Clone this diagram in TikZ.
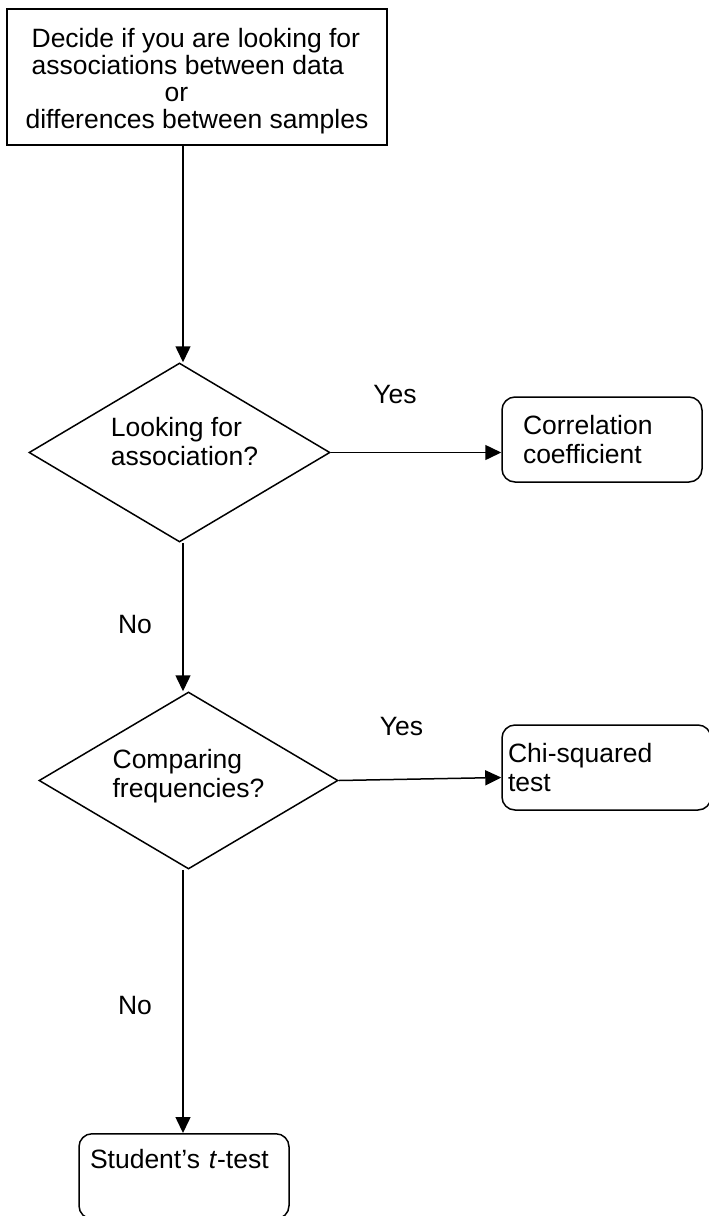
\documentclass[tikz,border=0pt]{standalone}
\usepackage{fontspec}
\setmainfont{Liberation Sans}
\usetikzlibrary{arrows.meta,positioning,shapes.geometric}

\begin{document}
\begin{tikzpicture}[x=1pt,y=-1pt,>={Triangle[length=16pt,width=15pt]},line width=1.5pt,
every node/.style={font=\fontsize{26.5}{29}\selectfont,inner sep=0pt},
startbox/.style={draw,rectangle,minimum width=380pt,minimum height=136pt,align=left,font=\fontsize{26.5}{27}\selectfont},
testbox/.style={draw,rectangle,rounded corners=13pt,align=left,minimum height=85pt},
question/.style={draw,diamond,aspect=1.69,align=left}]
\useasboundingbox (0,0) rectangle (709,1216);
\fill[white] (0,0) rectangle (709,1216);
\clip (0,0) rectangle (709,1216);
\coordinate (spine) at (183,0);
\node[startbox] (start) at (197,77) {\rule{0pt}{27pt}\hspace*{6pt}Decide if you are looking for\\ \hspace*{6pt}associations between data\\ \hspace*{139pt}or\\ differences between samples};
\node[question,minimum width=301pt,minimum height=179pt] (assoc) at (179.5,452.5) {\hspace*{10pt}Looking for\\ \hspace*{10pt}association?\rule[-23pt]{0pt}{0pt}};
\node[question,minimum width=299pt,minimum height=177pt] (freq) at (188.5,780.5) {Comparing\\frequencies?\rule[-15pt]{0pt}{0pt}};
\node[testbox,text width=158pt,inner xsep=21pt] (corr) at (602,439.5) {Correlation\\coefficient};
\node[testbox,text width=197pt,inner xsep=6pt] (chi) at (606.5,767.5) {Chi-squared\\test};
\node[testbox,text width=188pt,inner xsep=11pt,inner ysep=15pt,text height=20pt,text depth=35pt,anchor=north] (ttest) at (184,1133) {Student’s \textit{t}-test};
\draw[->] (spine |- start.south) -- (spine |- assoc.north);
\draw[->] (spine |- assoc.south) -- (spine |- freq.north);
\draw[->] (spine |- freq.south) -- (spine |- ttest.north);
\draw[->] (assoc.east) -- (assoc.east -| corr.west);
\draw[->] (freq.east) -- ([yshift=-10pt]chi.west);
\node[anchor=base] (yes1) at (395,403) {Yes};
\node[anchor=base] (yes2) at (401.5,735) {Yes};
\node[anchor=base] (no1) at (135,633) {No};
\node[anchor=base] (no2) at (135,1014) {No};
\end{tikzpicture}
\end{document}
